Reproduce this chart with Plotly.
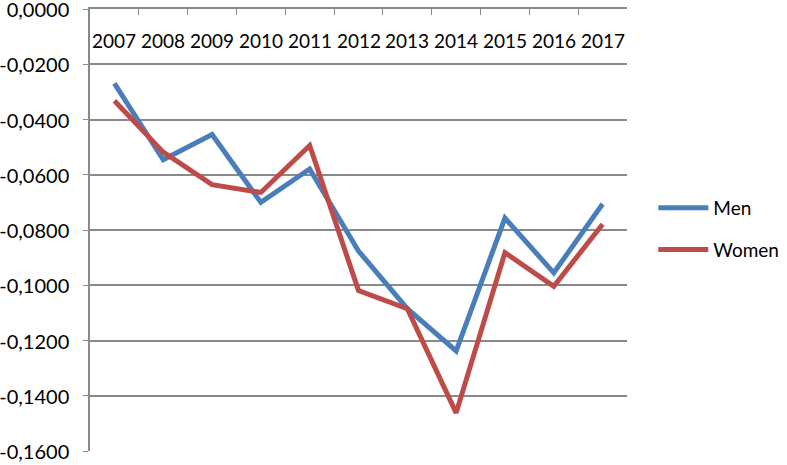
import plotly.graph_objects as go

years = ["2007", "2008", "2009", "2010", "2011", "2012", "2013", "2014", "2015", "2016", "2017"]
men = [-0.0269, -0.0546, -0.0454, -0.0700, -0.0579, -0.0876, -0.1085, -0.1238, -0.0757, -0.0955, -0.0706]
women = [-0.0332, -0.0518, -0.0636, -0.0664, -0.0494, -0.1019, -0.1085, -0.1462, -0.0882, -0.1004, -0.0779]
ytick_vals = [0, -0.02, -0.04, -0.06, -0.08, -0.10, -0.12, -0.14, -0.16]
ytick_text = ["0,0000", "-0,0200", "-0,0400", "-0,0600", "-0,0800", "-0,1000", "-0,1200", "-0,1400", "-0,1600"]

FONT = "Lato"
grid = "#8a8a8a"

fig = go.Figure()
fig.add_trace(go.Scatter(x=years, y=men, name="Men", mode="lines",
                         line=dict(color="#4A7EBB", width=5), legendgroup="m"))
fig.add_trace(go.Scatter(x=years, y=women, name="Women", mode="lines",
                         line=dict(color="#BE4B48", width=5), legendgroup="w"))

# year labels placed just under the zero line (the category axis crosses at 0)
for i, yr in enumerate(years):
    fig.add_annotation(x=i, xref="x", y=0.9295, yref="paper", text=yr,
                       showarrow=False, xanchor="center", yanchor="middle",
                       font=dict(size=19, family=FONT, color="#000000"))

fig.update_layout(
    width=787, height=465,
    margin=dict(l=90, r=160, t=9, b=14, autoexpand=False),
    paper_bgcolor="white", plot_bgcolor="white",
    font=dict(family=FONT, size=19, color="#000000"),
    showlegend=True,
    legend=dict(x=1.049, y=0.593, xanchor="left", yanchor="top",
                tracegroupgap=14, itemwidth=50, font=dict(size=19, family=FONT),
                bgcolor="rgba(0,0,0,0)"),
    xaxis=dict(type="category", side="top", showticklabels=False,
               ticks="inside", tickson="boundaries", ticklen=6, tickcolor=grid,
               showline=True, linecolor=grid, linewidth=1.5, showgrid=False,
               range=[-0.5, 10.5], zeroline=False, automargin=False),
    yaxis=dict(range=[-0.16, 0], tickvals=ytick_vals, ticktext=ytick_text,
               showgrid=True, gridcolor=grid, gridwidth=1.5,
               showline=True, linecolor=grid, linewidth=1.5,
               ticks="outside", ticklen=5, tickcolor=grid, ticklabeloverflow="allow",
               ticklabelstandoff=10, ticklabelshift=1,
               zeroline=False, tickfont=dict(size=20, family=FONT), automargin=False),
)

fig.write_html("out.html", config={"displayModeBar": False},
               post_script="document.body.style.margin='0';")
